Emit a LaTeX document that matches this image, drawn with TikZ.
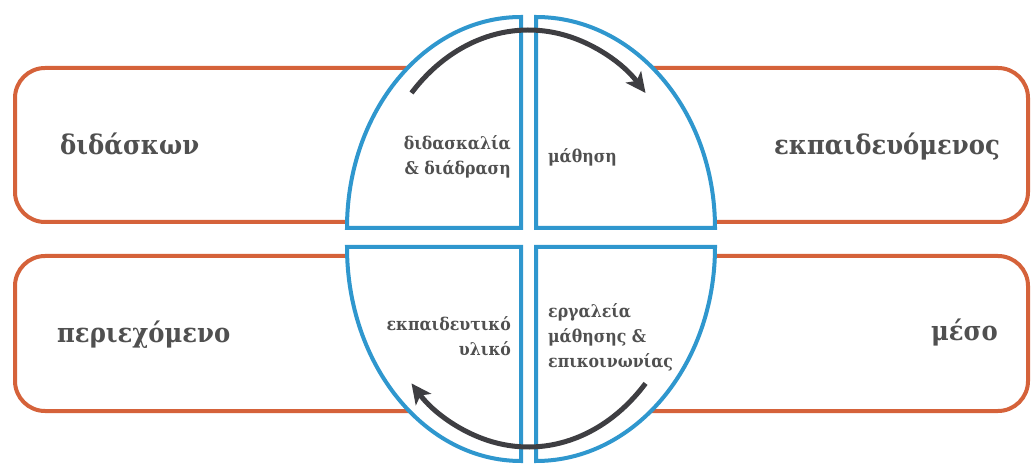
\documentclass[tikz,border=0pt]{standalone}
\usepackage{fontspec}
\setmainfont{DejaVu Serif Condensed}
\usetikzlibrary{arrows.meta}
\definecolor{boxorange}{HTML}{D5623A}
\definecolor{quadblue}{HTML}{2F97CE}
\definecolor{arrowgray}{HTML}{3E3E42}
\definecolor{textgray}{HTML}{505050}
\tikzset{
  box/.style={draw=boxorange, line width=4pt, rounded corners=30pt, fill=white, rectangle, inner sep=0pt},
  quad/.style={draw=quadblue, line width=4pt, fill=white, line join=miter},
  cyclearrow/.style={draw=arrowgray, line width=5pt, -{Stealth[length=20pt,width=19pt,inset=5pt]}},
  biglabel/.style={text=textgray, font=\bfseries\fontsize{27}{32}\selectfont, inner sep=0pt},
  smalllabel/.style={text=textgray, font=\bfseries\fontsize{17.5}{25}\selectfont, inner sep=0pt}
}
\begin{document}
\begin{tikzpicture}[x=1pt,y=1pt]
\useasboundingbox (0,0) rectangle (1035,466);
% boxes
\node (tlbox) [box, minimum width=485pt, minimum height=154pt] at (257.5,321) {};
\node (trbox) [box, minimum width=468pt, minimum height=154pt] at (794,321) {};
\node (blbox) [box, minimum width=485pt, minimum height=155pt] at (257.5,132.5) {};
\node (brbox) [box, minimum width=468pt, minimum height=155pt] at (794,132.5) {};
% quadrants
\draw[quad] (521,238) -- (347,238) arc[start angle=180,end angle=90,x radius=174,y radius=211] -- cycle;
\draw[quad] (536,238) -- (536,449) arc[start angle=90,end angle=0,x radius=179,y radius=211] -- cycle;
\draw[quad] (521,219) -- (347,219) arc[start angle=180,end angle=270,x radius=174,y radius=214] -- cycle;
\draw[quad] (536,219) -- (536,5) arc[start angle=270,end angle=360,x radius=179,y radius=214] -- cycle;
% arrows
\draw[cyclearrow] (528.5,238) ++(137:160 and 198) arc[start angle=137,end angle=43,x radius=160,y radius=198];
\draw[cyclearrow] (528.5,219) ++(-43:160 and 200) arc[start angle=-43,end angle=-137,x radius=160,y radius=200];
% big labels
\node (l1) [biglabel, anchor=base west] at (60,311) {διδάσκων};
\node (l2) [biglabel, anchor=base east] at (1000,311) {εκπαιδευόμενος};
\node (l3) [biglabel, anchor=base west] at (57,124) {περιεχόμενο};
\node (l4) [biglabel, anchor=base east] at (998,126) {μέσο};
% small labels
\node (s1) [smalllabel, align=right, anchor=east] at (511,309) {διδασκαλία\\\& διάδραση};
\node (s2) [smalllabel, align=left, anchor=west] at (548,309) {μάθηση};
\node (s3) [smalllabel, align=right, anchor=east] at (511,130) {εκπαιδευτικό\\υλικό};
\node (s4) [smalllabel, align=left, anchor=west] at (548,129) {εργαλεία\\μάθησης \&\\επικοινωνίας};
\end{tikzpicture}
\end{document}
